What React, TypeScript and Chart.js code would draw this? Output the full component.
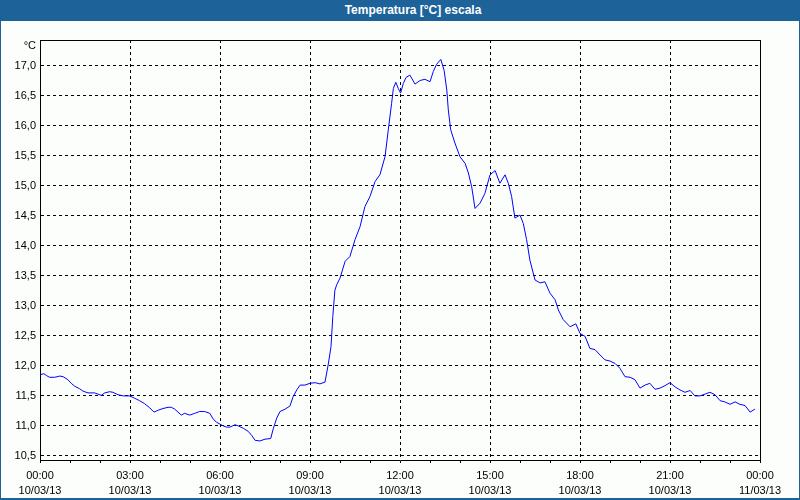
import React, { useEffect, useRef } from "react";
import { Chart, registerables } from "chart.js";

Chart.register(...registerables);

const title = "Temperatura [°C] escala";
const unitLabel = "°C";

// hours since 00:00 10/03/13
const hours = [
  0, 0.13, 0.21, 0.32, 0.49, 0.66, 0.77, 0.93, 1.04, 1.16, 1.32, 1.43, 1.6, 1.82, 1.93, 2.04, 2.16, 2.32, 2.43, 2.6,
  2.77, 2.99, 3.16, 3.32, 3.49, 3.66, 3.8, 3.93, 4.1, 4.27, 4.38, 4.49, 4.6, 4.71, 4.82, 4.99, 5.16, 5.32, 5.49, 5.66,
  5.78, 5.89, 6.0, 6.11, 6.22, 6.33, 6.5, 6.61, 6.78, 6.94, 7.06, 7.17, 7.33, 7.5, 7.69, 7.78, 7.89, 8.0, 8.17, 8.33,
  8.44, 8.56, 8.67, 8.83, 9.0, 9.17, 9.33, 9.5, 9.61, 9.7, 9.76, 9.83, 9.89, 10.0, 10.17, 10.33, 10.5, 10.67, 10.83, 11.0,
  11.17, 11.33, 11.5, 11.61, 11.72, 11.78, 11.86, 11.94, 12.02, 12.11, 12.2, 12.33, 12.5, 12.67, 12.83, 13.0, 13.11, 13.22, 13.36, 13.47,
  13.56, 13.61, 13.69, 13.83, 14.0, 14.17, 14.28, 14.39, 14.5, 14.67, 14.83, 15.0, 15.17, 15.33, 15.5, 15.61, 15.72, 15.83, 16.0, 16.11,
  16.22, 16.33, 16.5, 16.67, 16.83, 17.0, 17.17, 17.28, 17.44, 17.67, 17.86, 18.0, 18.17, 18.33, 18.5, 18.67, 18.83, 19.0, 19.17, 19.33,
  19.5, 19.67, 19.83, 20.0, 20.17, 20.33, 20.5, 20.67, 20.83, 21.0, 21.17, 21.33, 21.5, 21.67, 21.83, 22.0, 22.17, 22.33, 22.5, 22.67,
  22.83, 23.0, 23.17, 23.33, 23.5, 23.67, 23.83,
];

const temperatures = [
  11.85, 11.87, 11.84, 11.81, 11.81, 11.83, 11.82, 11.77, 11.71, 11.66, 11.62, 11.58, 11.55, 11.55, 11.53, 11.51, 11.55, 11.57, 11.56, 11.52,
  11.5, 11.5, 11.46, 11.42, 11.37, 11.3, 11.23, 11.26, 11.29, 11.31, 11.31, 11.28, 11.23, 11.18, 11.21, 11.18, 11.21, 11.24, 11.24, 11.21,
  11.11, 11.06, 11.03, 11.0, 10.98, 10.98, 11.02, 11.0, 10.96, 10.91, 10.84, 10.76, 10.75, 10.78, 10.79, 10.96, 11.13, 11.24, 11.28, 11.33,
  11.49, 11.6, 11.68, 11.68, 11.71, 11.72, 11.7, 11.73, 12.03, 12.32, 12.82, 13.26, 13.35, 13.46, 13.74, 13.82, 14.1, 14.32, 14.65, 14.82,
  15.07, 15.18, 15.48, 15.93, 16.37, 16.62, 16.72, 16.62, 16.54, 16.7, 16.8, 16.84, 16.69, 16.75, 16.77, 16.73, 16.9, 17.02, 17.1, 16.92,
  16.59, 16.26, 15.93, 15.71, 15.48, 15.37, 15.21, 14.98, 14.62, 14.71, 14.87, 15.18, 15.25, 15.04, 15.18, 15.04, 14.82, 14.46, 14.51, 14.37,
  14.1, 13.76, 13.43, 13.38, 13.4, 13.21, 13.1, 12.93, 12.77, 12.65, 12.7, 12.54, 12.49, 12.29, 12.27, 12.18, 12.1, 12.08, 12.04, 11.96,
  11.82, 11.81, 11.77, 11.63, 11.68, 11.71, 11.61, 11.63, 11.67, 11.72, 11.65, 11.6, 11.56, 11.59, 11.5, 11.5, 11.53, 11.56, 11.52, 11.42,
  11.4, 11.36, 11.4, 11.36, 11.34, 11.23, 11.28,
];

const xTimeLabels = ["00:00", "03:00", "06:00", "09:00", "12:00", "15:00", "18:00", "21:00", "00:00"];
const xDateLabels = ["10/03/13", "10/03/13", "10/03/13", "10/03/13", "10/03/13", "10/03/13", "10/03/13", "10/03/13", "11/03/13"];

const FONT = "'Liberation Sans', Arial, sans-serif";

export default function App() {
  const canvasRef = useRef<HTMLCanvasElement | null>(null);

  useEffect(() => {
    document.body.style.margin = "0";
    const canvas = canvasRef.current;
    if (!canvas) return;

    const framePlugin = {
      id: "frameAndUnit",
      afterDraw(chart: any) {
        const { ctx, chartArea } = chart;
        const l = Math.round(chartArea.left) + 0.5;
        const r = Math.round(chartArea.right) + 0.5;
        const t = Math.round(chartArea.top) + 0.5;
        const b = Math.round(chartArea.bottom) + 0.5;
        ctx.save();
        ctx.strokeStyle = "#000";
        ctx.lineWidth = 1;
        ctx.setLineDash([]);
        ctx.beginPath();
        ctx.moveTo(l, t);
        ctx.lineTo(r, t);
        ctx.lineTo(r, b);
        ctx.stroke();
        ctx.fillStyle = "#000";
        ctx.font = `11px ${FONT}`;
        ctx.textAlign = "right";
        ctx.textBaseline = "middle";
        ctx.fillText(unitLabel, chartArea.left - 4, chartArea.top + 6);
        ctx.restore();
      },
    };

    const chart = new Chart(canvas, {
      type: "line",
      data: {
        datasets: [
          {
            data: hours.map((h, i) => ({ x: h, y: temperatures[i] })),
            borderColor: "#0000ff",
            borderWidth: 1,
            pointRadius: 0,
            tension: 0,
            fill: false,
          },
        ],
      },
      options: {
        responsive: false,
        animation: false,
        events: [],
        layout: { padding: { top: 20, right: 40, bottom: 0, left: 0 } },
        plugins: {
          legend: { display: false },
          title: { display: false },
          tooltip: { enabled: false },
        },
        scales: {
          x: {
            type: "linear",
            min: 0,
            max: 24,
            afterFit: (s: any) => {
              s.height = 40;
            },
            grid: {
              color: (c: any) => (c.tick && Math.round(c.tick.value) % 3 === 0 ? "#000" : "rgba(0,0,0,0)"),
              lineWidth: 1,
              drawTicks: true,
              tickLength: 3,
              tickColor: "#000",
              tickWidth: 1,
            },
            border: { display: true, color: "#000", width: 1, dash: [3, 3] },
            ticks: {
              stepSize: 1,
              autoSkip: false,
              maxRotation: 0,
              minRotation: 0,
              padding: 6,
              color: "#000",
              font: { family: FONT, size: 11, lineHeight: 1.35 },
              callback: (v: any) => {
                const h = Math.round(Number(v));
                if (h % 3 !== 0) return "";
                const i = h / 3;
                return [xTimeLabels[i], xDateLabels[i]];
              },
            },
          },
          y: {
            type: "linear",
            min: 10.433,
            max: 17.424,
            afterFit: (s: any) => {
              s.width = 40;
            },
            grid: {
              color: "#000",
              lineWidth: 1,
              drawTicks: false,
            },
            border: { display: true, color: "#000", width: 1, dash: [3, 3] },
            ticks: {
              stepSize: 0.5,
              includeBounds: false,
              padding: 4,
              color: "#000",
              font: { family: FONT, size: 11 },
              callback: (v: any) => Number(v).toFixed(1).replace(".", ","),
            },
          },
        },
      },
      plugins: [framePlugin],
    } as any);

    return () => {
      chart.destroy();
    };
  }, []);

  return (
    <div
      style={{
        position: "fixed",
        left: 0,
        top: 0,
        width: 800,
        height: 500,
        background: "#1d6399",
        overflow: "hidden",
      }}
    >
      <div
        style={{
          position: "absolute",
          left: 1,
          top: 21,
          width: 798,
          height: 477,
          background: "#fcfefc",
        }}
      />
      <div
        style={{
          position: "absolute",
          left: 413,
          top: 0,
          height: 21,
          lineHeight: "21px",
          transform: "translateX(-50%)",
          whiteSpace: "nowrap",
          color: "#ffffff",
          fontFamily: FONT,
          fontWeight: "bold",
          fontSize: 12,
        }}
      >
        {title}
      </div>
      <canvas
        ref={canvasRef}
        width={800}
        height={480}
        style={{ position: "absolute", left: 0, top: 20, width: 800, height: 480 }}
      />
    </div>
  );
}
